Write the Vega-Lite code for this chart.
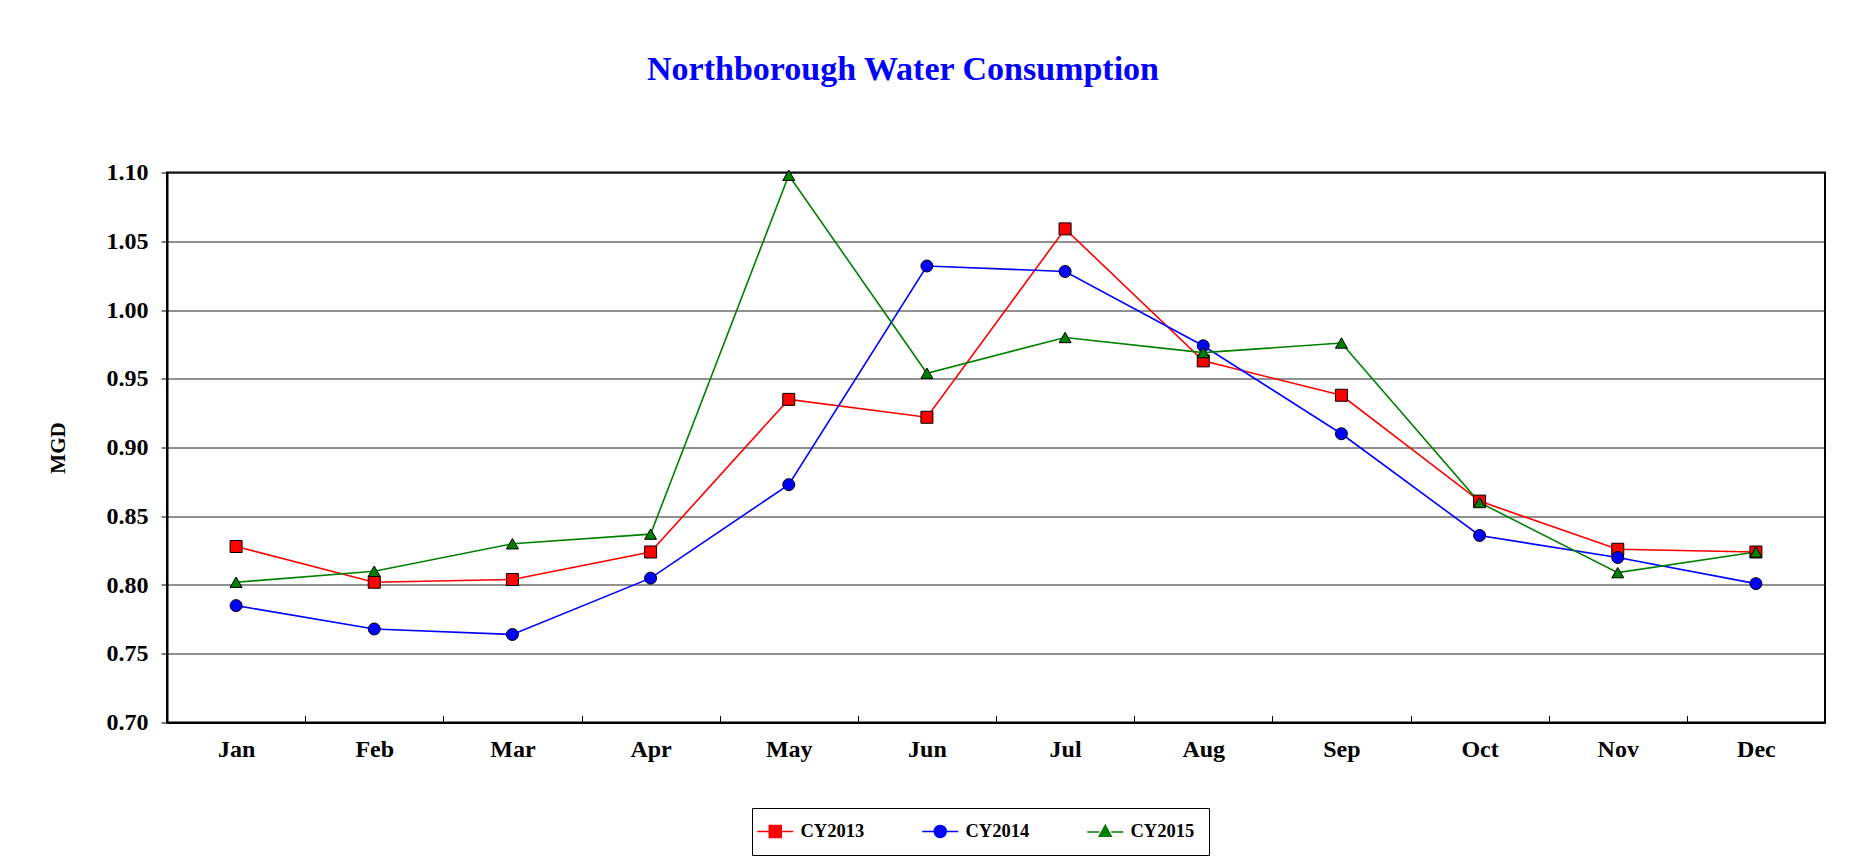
{
  "$schema": "https://vega.github.io/schema/vega-lite/v6.json",
  "width": 1658,
  "height": 550,
  "autosize": "none",
  "padding": {"left": 167, "top": 172.5, "right": 41, "bottom": 141.5},
  "background": "white",
  "title": {
    "text": "Northborough Water Consumption",
    "font": "Liberation Serif",
    "fontSize": 34,
    "fontWeight": "bold",
    "color": "#0000ff",
    "anchor": "middle",
    "dx": -93,
    "baseline": "alphabetic",
    "offset": 47
  },
  "data": {
    "values": [
      {"month": "Jan", "series": "CY2013", "value": 0.828},
      {"month": "Feb", "series": "CY2013", "value": 0.802},
      {"month": "Mar", "series": "CY2013", "value": 0.804},
      {"month": "Apr", "series": "CY2013", "value": 0.824},
      {"month": "May", "series": "CY2013", "value": 0.935},
      {"month": "Jun", "series": "CY2013", "value": 0.922},
      {"month": "Jul", "series": "CY2013", "value": 1.059},
      {"month": "Aug", "series": "CY2013", "value": 0.963},
      {"month": "Sep", "series": "CY2013", "value": 0.938},
      {"month": "Oct", "series": "CY2013", "value": 0.861},
      {"month": "Nov", "series": "CY2013", "value": 0.826},
      {"month": "Dec", "series": "CY2013", "value": 0.824},
      {"month": "Jan", "series": "CY2014", "value": 0.785},
      {"month": "Feb", "series": "CY2014", "value": 0.768},
      {"month": "Mar", "series": "CY2014", "value": 0.764},
      {"month": "Apr", "series": "CY2014", "value": 0.805},
      {"month": "May", "series": "CY2014", "value": 0.873},
      {"month": "Jun", "series": "CY2014", "value": 1.032},
      {"month": "Jul", "series": "CY2014", "value": 1.028},
      {"month": "Aug", "series": "CY2014", "value": 0.974},
      {"month": "Sep", "series": "CY2014", "value": 0.910},
      {"month": "Oct", "series": "CY2014", "value": 0.836},
      {"month": "Nov", "series": "CY2014", "value": 0.820},
      {"month": "Dec", "series": "CY2014", "value": 0.801},
      {"month": "Jan", "series": "CY2015", "value": 0.802},
      {"month": "Feb", "series": "CY2015", "value": 0.810},
      {"month": "Mar", "series": "CY2015", "value": 0.830},
      {"month": "Apr", "series": "CY2015", "value": 0.837},
      {"month": "May", "series": "CY2015", "value": 1.098},
      {"month": "Jun", "series": "CY2015", "value": 0.954},
      {"month": "Jul", "series": "CY2015", "value": 0.980},
      {"month": "Aug", "series": "CY2015", "value": 0.969},
      {"month": "Sep", "series": "CY2015", "value": 0.976},
      {"month": "Oct", "series": "CY2015", "value": 0.860},
      {"month": "Nov", "series": "CY2015", "value": 0.809},
      {"month": "Dec", "series": "CY2015", "value": 0.824}
    ]
  },
  "encoding": {
    "x": {
      "field": "month",
      "type": "nominal",
      "sort": ["Jan", "Feb", "Mar", "Apr", "May", "Jun", "Jul", "Aug", "Sep", "Oct", "Nov", "Dec"],
      "scale": {"type": "band", "paddingInner": 0, "paddingOuter": 0},
      "axis": {
        "title": null,
        "labelAngle": 0,
        "tickBand": "extent",
        "tickSize": -7,
        "tickColor": "black",
        "tickWidth": 1,
        "labelPadding": 22,
        "labelFont": "Liberation Serif",
        "labelFontSize": 24,
        "labelFontWeight": "bold",
        "labelColor": "black",
        "domainColor": "black",
        "domainWidth": 2,
        "grid": false
      }
    },
    "y": {
      "field": "value",
      "type": "quantitative",
      "scale": {"domain": [0.7, 1.1], "nice": false, "zero": false},
      "axis": {
        "title": "MGD",
        "values": [0.7, 0.75, 0.8, 0.85, 0.9, 0.95, 1.0, 1.05, 1.1],
        "format": ".2f",
        "tickSize": 6,
        "tickColor": "black",
        "labelPadding": 13,
        "labelFont": "Liberation Serif",
        "labelFontSize": 24,
        "labelFontWeight": "bold",
        "labelColor": "black",
        "titleFont": "Liberation Serif",
        "titleFontSize": 21,
        "titleFontWeight": "bold",
        "titleColor": "black",
        "titlePadding": 38,
        "domainColor": "black",
        "domainWidth": 2,
        "grid": true,
        "gridColor": "#222222",
        "gridWidth": 1,
        "gridOpacity": 1
      }
    },
    "color": {
      "field": "series",
      "type": "nominal",
      "scale": {"domain": ["CY2013", "CY2014", "CY2015"], "range": ["#ff0000", "#0000ff", "#008000"]}
    }
  },
  "layer": [
    {
      "mark": {"type": "line", "strokeWidth": 1.6},
      "encoding": {
        "color": {
          "field": "series",
          "type": "nominal",
          "legend": {
            "title": null,
            "orient": "none",
            "direction": "horizontal",
            "legendX": 585,
            "legendY": 635.5,
            "padding": 14,
            "columnPadding": 54,
            "symbolSize": 144,
            "labelOffset": 16,
            "labelFont": "Liberation Serif",
            "labelFontSize": 18.5,
            "labelFontWeight": "bold",
            "labelColor": "black",
            "strokeColor": "black",
            "fillColor": "white",
            "encode": {
              "symbols": {
                "update": {
                  "shape": {"signal": "datum.value === 'CY2013' ? 'M-3,0H-1M1,0H3M-1,-1H1V1H-1Z' : datum.value === 'CY2014' ? 'M-3,0H-1M1,0H3M1,0A1,1 0 1,1 -1,0A1,1 0 1,1 1,0Z' : 'M-3,0.1H-1M1,0.1H3M0,-1L1,0.8H-1Z'"},
                  "fill": {"scale": "color", "field": "value"},
                  "stroke": {"scale": "color", "field": "value"},
                  "strokeWidth": {"value": 1.5},
                  "opacity": {"value": 1}
                }
              }
            }
          }
        }
      }
    },
    {
      "transform": [{"filter": "datum.series === 'CY2013'"}],
      "mark": {"type": "point", "shape": "square", "filled": true, "size": 144, "stroke": "black", "strokeWidth": 1, "opacity": 1},
      "encoding": {"color": {"field": "series", "type": "nominal", "legend": null}}
    },
    {
      "transform": [{"filter": "datum.series === 'CY2014'"}],
      "mark": {"type": "point", "shape": "circle", "filled": true, "size": 144, "stroke": "black", "strokeWidth": 1, "opacity": 1},
      "encoding": {"color": {"field": "series", "type": "nominal", "legend": null}}
    },
    {
      "transform": [{"filter": "datum.series === 'CY2015'"}],
      "mark": {"type": "point", "shape": "triangle-up", "filled": true, "size": 144, "stroke": "black", "strokeWidth": 1, "opacity": 1},
      "encoding": {"color": {"field": "series", "type": "nominal", "legend": null}}
    }
  ],
  "config": {
    "view": {"stroke": "black", "strokeWidth": 2}
  }
}
